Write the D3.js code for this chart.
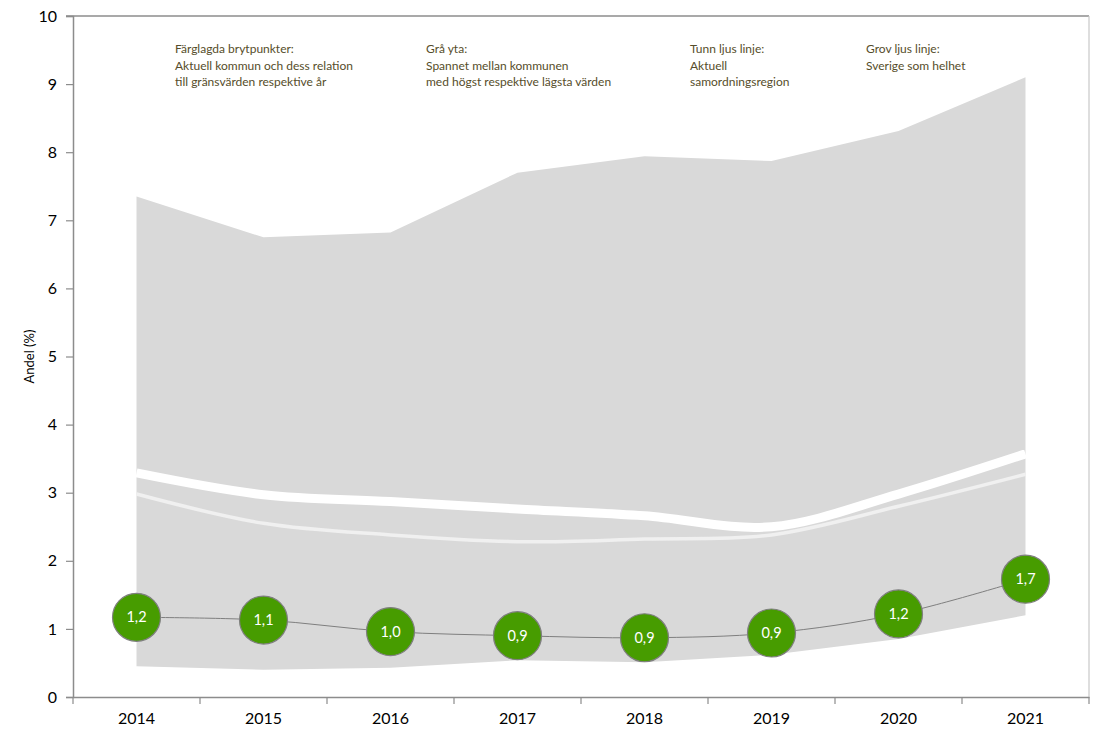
<!DOCTYPE html>
<html><head><meta charset="utf-8">
<script src="https://cdn.jsdelivr.net/npm/d3@7"></script>
<style>
html,body{margin:0;padding:0;background:#fff;}
svg{display:block;font-family:Lato,"Open Sans",sans-serif;}
</style></head>
<body>
<svg id="chart" width="1095" height="736"></svg>
<script>
const years = ["2014","2015","2016","2017","2018","2019","2020","2021"];
const rangeMax = [7.35, 6.75, 6.82, 7.70, 7.94, 7.87, 8.31, 9.10];
const rangeMin = [0.45, 0.40, 0.43, 0.54, 0.51, 0.62, 0.85, 1.20];
const sweden   = [3.29, 2.97, 2.87, 2.76, 2.66, 2.50, 2.98, 3.57];
const region   = [2.98, 2.55, 2.38, 2.28, 2.32, 2.38, 2.80, 3.27];
const kommun   = [1.17, 1.13, 0.96, 0.90, 0.87, 0.94, 1.22, 1.73];
const yTicks = [0,1,2,3,4,5,6,7,8,9,10];
const notes = [
  ["Färglagda brytpunkter:", "Aktuell kommun och dess relation", "till gränsvärden respektive år"],
  ["Grå yta:", "Spannet mellan kommunen", "med högst respektive lägsta värden"],
  ["Tunn ljus linje:", "Aktuell", "samordningsregion"],
  ["Grov ljus linje:", "Sverige som helhet"]
];
const noteX = [175, 426, 690, 866];
const yTitle = "Andel (%)";

const svg = d3.select("#chart");
const L = 73, R = 1089, T = 16, B = 697;
const x = d3.scaleBand().domain(years).range([L, R]).padding(0);
const y = d3.scaleLinear().domain([0, 10]).range([B, T]);
const cx = d => x(d) + x.bandwidth()/2;

// range area
const area = d3.area()
  .x((d,i) => cx(years[i]))
  .y0((d,i) => y(rangeMin[i]))
  .y1((d,i) => y(rangeMax[i]))
  .curve(d3.curveLinear);
svg.append("path").datum(years).attr("d", area).attr("fill", "#d9d9d9");

const smooth = d3.curveCatmullRom.alpha(0);
const line = arr => d3.line().x((d,i) => cx(years[i])).y(d => y(d)).curve(smooth)(arr);

svg.append("path").attr("d", line(sweden)).attr("fill","none")
  .attr("stroke","#ffffff").attr("stroke-width",9);
svg.append("path").attr("d", line(region)).attr("fill","none")
  .attr("stroke","#f0f0f0").attr("stroke-width",3.5);

// frame
svg.append("line").attr("x1", L-7).attr("x2", R).attr("y1", T).attr("y2", T)
  .attr("stroke","#8c8c8c").attr("stroke-width",1.5);
svg.append("line").attr("x1", R).attr("x2", R).attr("y1", T).attr("y2", B)
  .attr("stroke","#c8c8c8").attr("stroke-width",1.2);

// axes
const yAxis = svg.append("g").attr("transform", `translate(${L},0)`)
  .call(d3.axisLeft(y).tickValues(yTicks).tickSize(7).tickPadding(9).tickFormat(d3.format("d")));
yAxis.select(".domain").attr("stroke","#8c8c8c").attr("stroke-width",1.5);
yAxis.selectAll(".tick line").attr("stroke","#8c8c8c").attr("stroke-width",1.2);
yAxis.selectAll("text").attr("font-size",16).attr("fill","#000").attr("font-family","Lato,sans-serif");

const xAxis = svg.append("g").attr("transform", `translate(0,${B})`)
  .call(d3.axisBottom(x).tickSize(0).tickPadding(16));
xAxis.select(".domain").attr("stroke","#8c8c8c").attr("stroke-width",1.5);
xAxis.selectAll("text").attr("font-size",16).attr("fill","#000").attr("font-family","Lato,sans-serif");
const bounds = years.map(d => x(d)).concat([R]);
svg.append("g").selectAll("line").data(bounds).join("line")
  .attr("x1", d => d).attr("x2", d => d).attr("y1", B).attr("y2", B+7)
  .attr("stroke","#8c8c8c").attr("stroke-width",1.2);

svg.append("text").attr("transform", `translate(34,${(T+B)/2}) rotate(-90)`)
  .attr("text-anchor","middle").attr("font-size",13).attr("fill","#000").text(yTitle);

// notes
notes.forEach((lines, i) => {
  const t = svg.append("text").attr("x", noteX[i]).attr("y", 53)
    .attr("font-size", 12).attr("fill", "#564d2a");
  lines.forEach((s, j) => t.append("tspan").attr("x", noteX[i]).attr("dy", j ? 16.5 : 0).text(s));
});

// kommun line
svg.append("path").attr("d", line(kommun)).attr("fill","none")
  .attr("stroke","#7f7f7f").attr("stroke-width",1);
const fmt = v => v.toFixed(1).replace(".", ",");
const g = svg.append("g").selectAll("g").data(kommun).join("g")
  .attr("transform", (d,i) => `translate(${cx(years[i])},${y(d)})`);
g.append("circle").attr("r", 24).attr("fill", "#479c00").attr("stroke", "#7f7f7f").attr("stroke-width", 1.2);
g.append("text").attr("text-anchor","middle").attr("dy","0.35em")
  .attr("font-size",14.5).attr("fill","#fff").text(d => fmt(d));
</script>
</body></html>
